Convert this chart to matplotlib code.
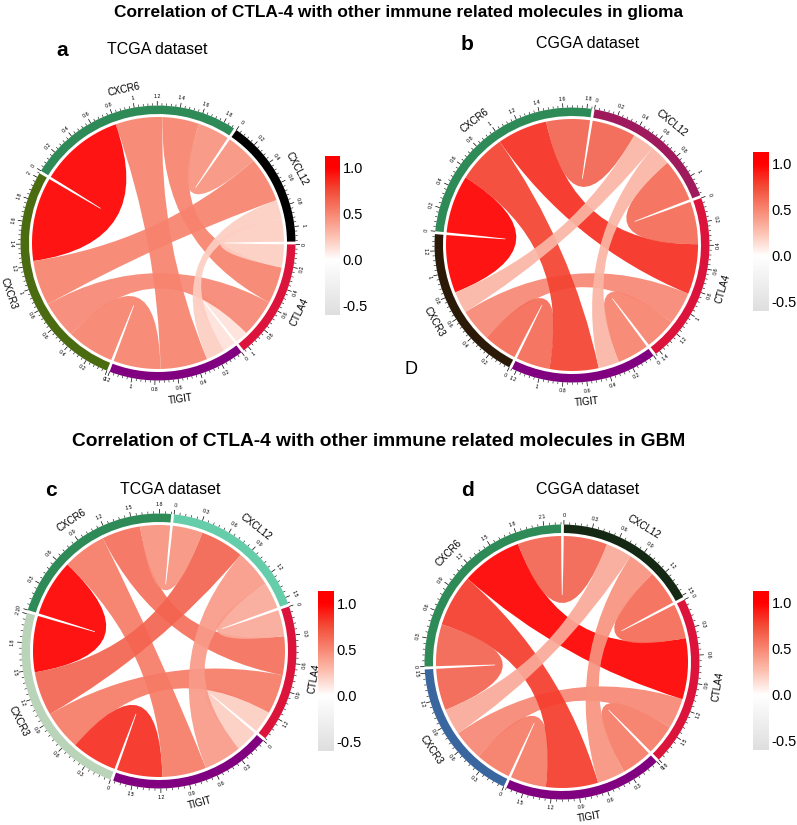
import numpy as np
import matplotlib
matplotlib.use("Agg")
import matplotlib.pyplot as plt
from matplotlib.path import Path
from matplotlib.patches import PathPatch, Wedge
from matplotlib.colors import LinearSegmentedColormap, Normalize
from matplotlib.cm import ScalarMappable
from matplotlib.collections import LineCollection

plt.rcParams['font.family'] = ['Liberation Sans', 'DejaVu Sans']

W, H = 797, 825

# sectors, clockwise from the start of CTLA4
genes = ["CTLA4", "TIGIT", "CXCR3", "CXCR6", "CXCL12"]
pairs = [("CTLA4", "TIGIT"), ("CTLA4", "CXCR3"), ("CTLA4", "CXCR6"), ("CTLA4", "CXCL12"),
         ("TIGIT", "CXCR3"), ("TIGIT", "CXCR6"), ("TIGIT", "CXCL12"),
         ("CXCR3", "CXCR6"), ("CXCR3", "CXCL12"), ("CXCR6", "CXCL12")]

# a: glioma, TCGA
width_a = [0.12, 0.36, 0.35, 0.22, 0.45, 0.45, 0.18, 0.80, 0.43, 0.30]
corr_a = [0.12, 0.50, 0.52, 0.20, 0.52, 0.52, 0.20, 1.10, 0.52, 0.45]
# b: glioma, CGGA
width_b = [0.29, 0.30, 0.46, 0.39, 0.31, 0.45, 0.19, 0.53, 0.20, 0.40]
corr_b = [0.52, 0.50, 0.85, 0.62, 0.62, 0.78, 0.30, 1.10, 0.30, 0.65]
# c: GBM, TCGA
width_c = [0.25, 0.45, 0.44, 0.30, 0.52, 0.50, 0.43, 0.64, 0.50, 0.34]
corr_c = [0.20, 0.55, 0.60, 0.35, 0.85, 0.55, 0.42, 1.10, 0.65, 0.45]
# d: GBM, CGGA
width_d = [0.35, 0.35, 0.70, 0.40, 0.41, 0.60, 0.32, 0.48, 0.30, 0.50]
corr_d = [0.55, 0.50, 1.10, 0.62, 0.55, 0.80, 0.45, 0.65, 0.35, 0.65]

colors_a = ["#dc143c", "#800080", "#4a6b10", "#2e8b57", "#000000"]
colors_b = ["#dc143c", "#800080", "#2b1a08", "#2e8b57", "#9e1a5c"]
colors_c = ["#dc143c", "#800080", "#b9d4b9", "#2e8b57", "#66cdaa"]
colors_d = ["#dc143c", "#800080", "#3a66a0", "#2e8b57", "#142814"]

cb_ticks = [-0.5, 0.0, 0.5, 1.0]

vmin, vmax = -0.6, 1.13
span = vmax - vmin
cmap = LinearSegmentedColormap.from_list(
    "corr", [(0.0, (0.87, 0.87, 0.87)), (0.6 / span, (1, 1, 1)),
             (0.85 / span, (0.99, 0.76, 0.70)), (1.1 / span, (0.97, 0.53, 0.45)),
             (1.35 / span, (0.95, 0.30, 0.22)), (1.6 / span, (1, 0, 0)), (1.0, (1, 0, 0))])
norm = Normalize(vmin, vmax)

fig = plt.figure(figsize=(W / 100, H / 100), dpi=100)

GAP = 1.2
R_CH, R_TR0, R_TR1 = 126, 129, 137.5


def pol(theta, r):
    t = np.radians(theta)
    return np.array([r * np.cos(t), r * np.sin(t)])


def nice_rot(theta):
    rot = (theta - 90 + 180) % 360 - 180
    if rot < -90 or rot > 90:
        rot = (rot + 180 + 180) % 360 - 180
    return rot


def chord_panel(cx, cy, widths, corrs, colors, start, step):
    S = 200
    ax = fig.add_axes([(cx - S) / W, 1 - (cy + S) / H, 2 * S / W, 2 * S / H])
    ax.set_xlim(-S, S)
    ax.set_ylim(-S, S)
    ax.axis('off')

    n = len(genes)
    w = {}
    for (g1, g2), v in zip(pairs, widths):
        w[(genes.index(g1), genes.index(g2))] = v
        w[(genes.index(g2), genes.index(g1))] = v
    lengths = [sum(w[(s, j)] for j in range(n) if j != s) for s in range(n)]
    dpu = (360 - n * GAP) / sum(lengths)

    # clockwise angles
    sec_start = []
    pos = -start
    interval = {}
    for s in range(n):
        sec_start.append(pos)
        p = pos
        for k in range(1, n):
            j = (s - k) % n
            interval[(s, j)] = (p, p + w[(s, j)] * dpu)
            p += w[(s, j)] * dpu
        pos += lengths[s] * dpu + GAP

    # links
    for (g1, g2), c in zip(pairs, corrs):
        i, j = genes.index(g1), genes.index(g2)
        s1, e1 = interval[(i, j)]
        s2, e2 = interval[(j, i)]
        verts, codes = [], []
        for k, a in enumerate(np.linspace(s1, e1, 40)):
            verts.append(pol(-a, R_CH))
            codes.append(Path.MOVETO if k == 0 else Path.LINETO)
        verts += [(0, 0), pol(-s2, R_CH)]
        codes += [Path.CURVE3, Path.CURVE3]
        for a in np.linspace(s2, e2, 40)[1:]:
            verts.append(pol(-a, R_CH))
            codes.append(Path.LINETO)
        verts += [(0, 0), pol(-s1, R_CH), (0, 0)]
        codes += [Path.CURVE3, Path.CURVE3, Path.CLOSEPOLY]
        ax.add_patch(PathPatch(Path(verts, codes), facecolor=cmap(norm(c)),
                               edgecolor='none', alpha=0.92))

    # track, ticks and labels
    segs_major, segs_minor = [], []
    for s in range(n):
        a0 = sec_start[s]
        a1 = a0 + lengths[s] * dpu
        ax.add_patch(Wedge((0, 0), R_TR1, -a1, -a0, width=R_TR1 - R_TR0,
                           facecolor=colors[s], edgecolor='none'))
        minor = step / 5
        k = 0
        while k * minor <= lengths[s] + 1e-9:
            th = -(a0 + k * minor * dpu)
            if k % 5 == 0:
                segs_major.append([pol(th, R_TR1), pol(th, R_TR1 + 4.5)])
                ax.text(*pol(th, R_TR1 + 9), f"{k * minor:g}", fontsize=3.9,
                        rotation=nice_rot(th), ha='center', va='center')
            else:
                segs_minor.append([pol(th, R_TR1), pol(th, R_TR1 + 2.3)])
            k += 1
        mid = -(a0 + a1) / 2
        ax.text(*pol(mid, R_TR1 + 20), genes[s], fontsize=7,
                rotation=nice_rot(mid), ha='center', va='center')
    ax.add_collection(LineCollection(segs_major, colors='black', linewidths=0.5))
    ax.add_collection(LineCollection(segs_minor, colors='black', linewidths=0.4))


def colorbar(x0, y0, x1, y1):
    cax = fig.add_axes([x0 / W, 1 - y1 / H, (x1 - x0) / W, (y1 - y0) / H])
    cb = fig.colorbar(ScalarMappable(norm=norm, cmap=cmap), cax=cax, ticks=cb_ticks)
    cb.ax.set_yticklabels([f"{t:.1f}" for t in cb_ticks])
    cb.outline.set_visible(False)
    cb.ax.tick_params(length=0, labelsize=10.5, pad=2)


def ftext(x, y, s, **kw):
    fig.text(x / W, 1 - y / H, s, ha='center', va='center', **kw)


chord_panel(158, 243, width_a, corr_a, colors_a, -0.6, 0.2)
chord_panel(572, 245, width_b, corr_b, colors_b, 20.0, 0.2)
chord_panel(159, 651, width_c, corr_c, colors_c, 18.9, 0.3)
chord_panel(562, 662, width_d, corr_d, colors_d, 27.0, 0.3)

colorbar(325, 156, 340, 315)
colorbar(753, 152, 769, 311)
colorbar(318, 591, 334, 751)
colorbar(753, 591, 769, 750)

ftext(399, 12, "Correlation of CTLA-4 with other immune related molecules in glioma",
      fontsize=12.4, fontweight='bold')
ftext(379, 441, "Correlation of CTLA-4 with other immune related molecules in GBM",
      fontsize=13.8, fontweight='bold')

ftext(62, 50, "a", fontsize=15, fontweight='bold')
ftext(157, 50, "TCGA dataset", fontsize=11.5)
ftext(467, 45, "b", fontsize=15, fontweight='bold')
ftext(588, 44, "CGGA dataset", fontsize=11.5)
ftext(51, 491, "c", fontsize=15, fontweight='bold')
ftext(170, 489, "TCGA dataset", fontsize=11.5)
ftext(467, 490, "d", fontsize=15, fontweight='bold')
ftext(588, 489, "CGGA dataset", fontsize=11.5)
ftext(411, 370, "D", fontsize=13)

fig.savefig("out.png", dpi=100)
